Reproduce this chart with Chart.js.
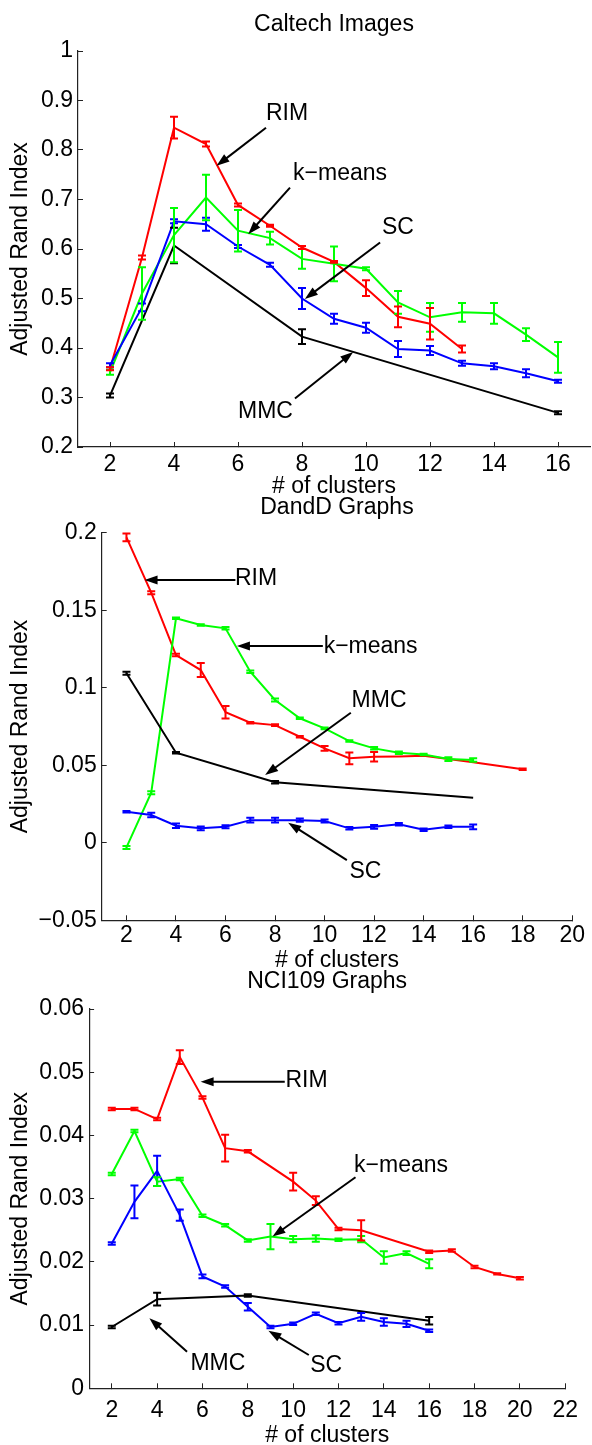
<!DOCTYPE html>
<html>
<head>
<meta charset="utf-8">
<script src="https://cdn.jsdelivr.net/npm/chart.js@4.4.1/dist/chart.umd.min.js"></script>
<style>
  html, body { margin: 0; padding: 0; background: #fff; overflow: hidden; }
  #page { position: relative; width: 592px; height: 1445px; }
  canvas { position: absolute; left: 0; }
</style>
</head>
<body>
<div id="page">
  <canvas id="caltech" width="592" height="500" style="top:0"></canvas>
  <canvas id="dandd" width="592" height="489" style="top:485px"></canvas>
  <canvas id="nci109" width="592" height="489" style="top:960px"></canvas>
</div>
<script>
// ---- Caltech Images ----
var calX = [2, 3, 4, 5, 6, 7, 8, 9, 10, 11, 12, 13, 14, 15, 16];
var calRimX = [2, 3, 4, 5, 6, 7, 8, 9, 10, 11, 12, 13];
var calRim = [0.358, 0.583, 0.845, 0.812, 0.689, 0.647, 0.603, 0.574, 0.521, 0.463, 0.449, 0.398];
var calRimErr = [0.003, 0.004, 0.022, 0.005, 0.003, 0.002, 0.003, 0.002, 0.016, 0.021, 0.032, 0.007];
var calKm = [0.351, 0.51, 0.628, 0.704, 0.637, 0.622, 0.580, 0.570, 0.560, 0.492, 0.462, 0.472, 0.470, 0.427, 0.381];
var calKmErr = [0.005, 0.053, 0.055, 0.046, 0.042, 0.013, 0.02, 0.035, 0.003, 0.023, 0.029, 0.019, 0.021, 0.013, 0.031];
var calSc = [0.365, 0.482, 0.656, 0.650, 0.605, 0.568, 0.500, 0.459, 0.441, 0.398, 0.395, 0.369, 0.363, 0.349, 0.333];
var calScErr = [0.004, 0.008, 0.004, 0.013, 0.003, 0.004, 0.021, 0.01, 0.01, 0.016, 0.009, 0.005, 0.006, 0.008, 0.003];
var calMmcX = [2, 4, 8, 16];
var calMmc = [0.304, 0.607, 0.423, 0.269];
var calMmcErr = [0.004, 0.036, 0.015, 0.003];
var calXTicks = [2, 4, 6, 8, 10, 12, 14, 16];
var calYTicks = [0.2, 0.3, 0.4, 0.5, 0.6, 0.7, 0.8, 0.9, 1];

// ---- DandD Graphs ----
var ddX = [2, 3, 4, 5, 6, 7, 8, 9, 10, 11, 12, 13, 14, 15, 16];
var ddRimX = [2, 3, 4, 5, 6, 7, 8, 9, 10, 11, 12, 13, 14, 15, 16, 17, 18];
var ddRim = [0.197, 0.1613, 0.1211, 0.1114, 0.0842, 0.0774, 0.0759, 0.0684, 0.0609, 0.0545, 0.0555, 0.0557, 0.0561, 0.0540, 0.0519, 0.0497, 0.0474];
var ddRimErr = [0.0025, 0.001, 0.0008, 0.0045, 0.004, 0.0005, 0.0005, 0.0005, 0.0015, 0.0038, 0.003, null, null, null, null, null, 0.0005];
var ddKm = [-0.003, 0.0323, 0.1448, 0.1405, 0.1383, 0.1103, 0.0921, 0.0803, 0.0738, 0.0656, 0.0609, 0.0581, 0.0570, 0.0540, 0.0534];
var ddKmErr = [0.001, 0.001, 0.0005, 0.0005, 0.0008, 0.0008, 0.001, 0.0005, 0.0005, 0.0005, 0.0008, 0.0008, 0.0005, 0.0012, 0.0012];
var ddSc = [0.020, 0.0179, 0.011, 0.0093, 0.0103, 0.0146, 0.0146, 0.0146, 0.014, 0.0093, 0.0103, 0.0119, 0.0084, 0.0103, 0.0103];
var ddScErr = [0.0005, 0.0015, 0.0015, 0.0012, 0.001, 0.0015, 0.0015, 0.001, 0.001, 0.0008, 0.0012, 0.0008, 0.0008, 0.0008, 0.0015];
var ddMmcX = [2, 4, 8, 16];
var ddMmc = [0.1093, 0.0581, 0.039, 0.029];
var ddMmcErr = [0.001, 0.0005, 0.0008, null];
var ddXTicks = [2, 4, 6, 8, 10, 12, 14, 16, 18, 20];
var ddYTicks = [-0.05, 0, 0.05, 0.1, 0.15, 0.2];

// ---- NCI109 Graphs ----
var nciX = [2, 3, 4, 5, 6, 7, 8, 9, 10, 11, 12, 13, 14, 15, 16];
var nciRimX = [2, 3, 4, 5, 6, 7, 8, 10, 11, 12, 13, 16, 17, 18, 19, 20];
var nciRim = [0.0442, 0.0442, 0.0426, 0.0524, 0.0460, 0.0380, 0.0375, 0.0327, 0.0297, 0.0252, 0.0250, 0.0216, 0.0218, 0.0192, 0.0181, 0.0174];
var nciRimErr = [0.0002, 0.0002, 0.0002, 0.0011, 0.0002, 0.0021, 0.0002, 0.0014, 0.0007, 0.0002, 0.0016, 0.0002, 0.0002, 0.0002, 0.0001, 0.0002];
var nciKm = [0.0339, 0.0407, 0.0327, 0.0331, 0.0273, 0.0258, 0.0234, 0.0240, 0.0236, 0.0237, 0.0235, 0.0236, 0.0207, 0.0214, 0.0197];
var nciKmErr = [0.0002, 0.0002, 0.0007, 0.0002, 0.0002, 0.0002, 0.0002, 0.002, 0.0005, 0.0005, 0.0002, 0.0005, 0.001, 0.0003, 0.0007];
var nciSc = [0.0229, 0.0295, 0.0344, 0.0274, 0.0177, 0.0161, 0.0129, 0.0097, 0.0102, 0.0118, 0.0103, 0.0113, 0.0105, 0.0102, 0.0091];
var nciScErr = [0.0002, 0.0026, 0.0024, 0.0009, 0.0003, 0.0002, 0.0006, 0.0002, 0.0002, 0.0002, 0.0002, 0.0006, 0.0006, 0.0005, 0.0002];
var nciMmcX = [2, 4, 8, 16];
var nciMmc = [0.0097, 0.0141, 0.0147, 0.0107];
var nciMmcErr = [0.0002, 0.001, 0.0002, 0.0006];
var nciXTicks = [2, 4, 6, 8, 10, 12, 14, 16, 18, 20, 22];
var nciYTicks = [0, 0.01, 0.02, 0.03, 0.04, 0.05, 0.06];

// callout labels: text centre, arrow tail and arrow head, in data units
var calNotes = [
  { text: 'RIM', at: [7.53, 0.873], tail: [6.875, 0.845], head: [5.33, 0.768] },
  { text: 'k\u2212means', at: [9.19, 0.753], tail: [7.625, 0.724], head: [6.32, 0.630] },
  { text: 'SC', at: [11.0, 0.643], tail: [10.44, 0.613], head: [8.09, 0.499] },
  { text: 'MMC', at: [6.86, 0.272], tail: [7.78, 0.298], head: [9.60, 0.392] }
];
var ddNotes = [
  { text: 'RIM', at: [7.23, 0.1701], tail: [6.40, 0.1695], head: [2.73, 0.1695] },
  { text: 'k\u2212means', at: [11.86, 0.1265], tail: [9.93, 0.1269], head: [6.46, 0.1269] },
  { text: 'MMC', at: [12.2, 0.0914], tail: [11.06, 0.0839], head: [7.6, 0.0437] },
  { text: 'SC', at: [11.65, -0.0187], tail: [10.9, -0.0112], head: [8.53, 0.0129] }
];
var nciNotes = [
  { text: 'RIM', at: [10.59, 0.0486], tail: [9.63, 0.0485], head: [5.92, 0.0485] },
  { text: 'k\u2212means', at: [14.76, 0.0353], tail: [12.75, 0.0334], head: [9.09, 0.0240] },
  { text: 'MMC', at: [6.68, 0.00385], tail: [5.32, 0.0058], head: [3.66, 0.0111] },
  { text: 'SC', at: [11.46, 0.00353], tail: [10.69, 0.00527], head: [8.91, 0.00911] }
];

var FAMILY = '"Liberation Sans", Arial, Helvetica, sans-serif';
var font = { family: FAMILY, size: 23, lineHeight: 1.2 };

// vertical error bars with caps, one per point
var errorBars = {
  id: 'errorBars',
  afterDatasetsDraw: function(chart) {
    var ctx = chart.ctx, xs = chart.scales.x, ys = chart.scales.y;
    ctx.save();
    ctx.lineWidth = 2;
    chart.data.datasets.forEach(function(ds) {
      if (!ds.errors) return;
      ctx.strokeStyle = ds.borderColor;
      ds.data.forEach(function(p, i) {
        var e = ds.errors[i];
        if (e == null) return;
        var px = xs.getPixelForValue(p.x);
        var top = ys.getPixelForValue(p.y + e);
        var bot = ys.getPixelForValue(p.y - e);
        ctx.beginPath();
        ctx.moveTo(px, top); ctx.lineTo(px, bot);
        ctx.moveTo(px - 4, top); ctx.lineTo(px + 4, top);
        ctx.moveTo(px - 4, bot); ctx.lineTo(px + 4, bot);
        ctx.stroke();
      });
    });
    ctx.restore();
  }
};

function arrow(ctx, x0, y0, x1, y1) {
  var a = Math.atan2(y1 - y0, x1 - x0), len = 13, half = 4.5;
  var bx = x1 - len * Math.cos(a), by = y1 - len * Math.sin(a);
  ctx.beginPath();
  ctx.moveTo(x0, y0);
  ctx.lineTo(bx + 2 * Math.cos(a), by + 2 * Math.sin(a));
  ctx.stroke();
  ctx.beginPath();
  ctx.moveTo(x1, y1);
  ctx.lineTo(bx + half * Math.sin(a), by - half * Math.cos(a));
  ctx.lineTo(bx - half * Math.sin(a), by + half * Math.cos(a));
  ctx.closePath();
  ctx.fill();
}

// text callouts with arrows pointing at the curves
var notes = {
  id: 'notes',
  afterDraw: function(chart, args, opts) {
    var ctx = chart.ctx, xs = chart.scales.x, ys = chart.scales.y;
    ctx.save();
    ctx.fillStyle = '#000';
    ctx.strokeStyle = '#000';
    ctx.lineWidth = 2;
    ctx.font = '23px ' + FAMILY;
    ctx.textAlign = 'center';
    ctx.textBaseline = 'middle';
    (opts.items || []).forEach(function(n) {
      ctx.fillText(n.text, xs.getPixelForValue(n.at[0]), ys.getPixelForValue(n.at[1]));
      arrow(ctx,
        xs.getPixelForValue(n.tail[0]), ys.getPixelForValue(n.tail[1]),
        xs.getPixelForValue(n.head[0]), ys.getPixelForValue(n.head[1]));
    });
    ctx.restore();
  }
};

function tickText(v) {
  return String(v).replace('-', '\u2212');
}

function series(xv, yv, err, color) {
  return {
    data: xv.map(function(x, i) { return { x: x, y: yv[i] }; }),
    errors: err,
    borderColor: color,
    borderWidth: 2,
    pointRadius: 0,
    fill: false,
    tension: 0
  };
}

function panel(id, title, xr, yr, xTicks, yTicks, datasets, items, g) {
  var axisColor = '#222';
  new Chart(document.getElementById(id), {
    type: 'line',
    data: { datasets: datasets },
    plugins: [errorBars, notes],
    options: {
      responsive: false,
      animation: false,
      devicePixelRatio: 1,
      layout: { padding: { left: 0, right: g.padRight, top: 0, bottom: 0 } },
      plugins: {
        legend: { display: false },
        tooltip: { enabled: false },
        title: {
          display: true,
          text: title,
          fullSize: false,
          color: '#000',
          font: { family: FAMILY, size: 23, weight: 'normal', lineHeight: 1.2 },
          padding: { top: g.titleTop, bottom: g.titleBottom }
        },
        notes: { items: items }
      },
      scales: {
        x: {
          type: 'linear',
          min: xr[0],
          max: xr[1],
          afterBuildTicks: function(s) { s.ticks = xTicks.map(function(v) { return { value: v }; }); },
          afterFit: function(s) { s.height = g.xHeight; },
          grid: { drawOnChartArea: false, drawTicks: true, tickLength: -5, color: axisColor, tickWidth: 1 },
          border: { display: true, color: axisColor, width: 1.2 },
          ticks: { autoSkip: false, maxRotation: 0, color: '#000', font: font, padding: g.xLabelPad, callback: tickText },
          title: { display: true, text: '# of clusters', color: '#000', font: font, padding: { top: 0, bottom: 0 } }
        },
        y: {
          type: 'linear',
          min: yr[0],
          max: yr[1],
          afterBuildTicks: function(s) { s.ticks = yTicks.map(function(v) { return { value: v }; }); },
          afterFit: function(s) { s.width = g.yWidth; },
          grid: { drawOnChartArea: false, drawTicks: true, tickLength: -5, color: axisColor, tickWidth: 1 },
          border: { display: true, color: axisColor, width: 1.2 },
          ticks: { autoSkip: false, color: '#000', font: font, padding: 10, callback: tickText },
          title: { display: true, text: 'Adjusted Rand Index', color: '#000', font: font, padding: { top: 7.2, bottom: 0 } }
        }
      }
    }
  });
}

panel('caltech', 'Caltech Images', [1, 17], [0.2, 1], calXTicks, calYTicks, [
  series(calMmcX, calMmc, calMmcErr, '#000000'),
  series(calX, calSc, calScErr, '#0000ff'),
  series(calX, calKm, calKmErr, '#00ff00'),
  series(calRimX, calRim, calRimErr, '#ff0000')
], calNotes, { padRight: 2, yWidth: 78, xHeight: 53, titleTop: 11, titleBottom: 12.4, xLabelPad: 8.5 });

panel('dandd', 'DandD Graphs', [1, 20], [-0.05, 0.2], ddXTicks, ddYTicks, [
  series(ddMmcX, ddMmc, ddMmcErr, '#000000'),
  series(ddX, ddSc, ddScErr, '#0000ff'),
  series(ddX, ddKm, ddKmErr, '#00ff00'),
  series(ddRimX, ddRim, ddRimErr, '#ff0000')
], ddNotes, { padRight: 15.3, yWidth: 101.7, xHeight: 53.7, titleTop: 9.2, titleBottom: 10.9, xLabelPad: 7 });

panel('nci109', 'NCI109 Graphs', [1, 22], [0, 0.06], nciXTicks, nciYTicks, [
  series(nciMmcX, nciMmc, nciMmcErr, '#000000'),
  series(nciX, nciSc, nciScErr, '#0000ff'),
  series(nciX, nciKm, nciKmErr, '#00ff00'),
  series(nciRimX, nciRim, nciRimErr, '#ff0000')
], nciNotes, { padRight: 15.7, yWidth: 89.1, xHeight: 60.7, titleTop: 7.9, titleBottom: 13.6, xLabelPad: 14 });
</script>
</body>
</html>
